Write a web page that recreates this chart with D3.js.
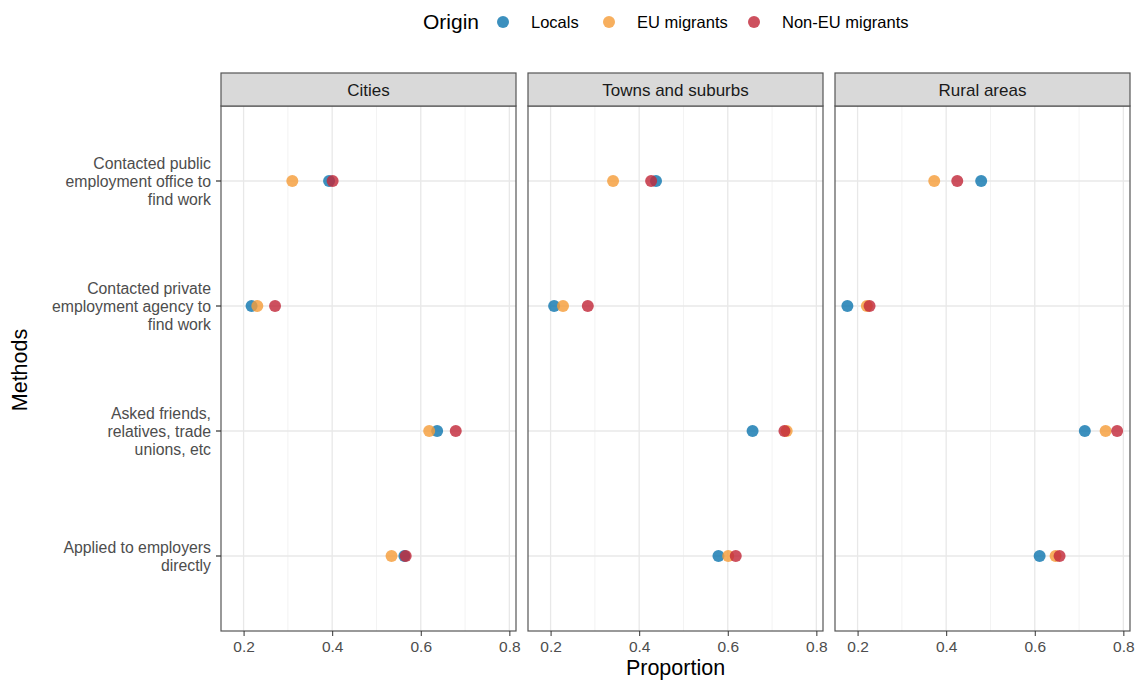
<!DOCTYPE html>
<html>
<head>
<meta charset="utf-8">
<script src="https://cdn.jsdelivr.net/npm/d3@7"></script>
<style>
  body { margin: 0; background: #fff; }
  svg { font-family: "Liberation Sans", Arial, sans-serif; }
</style>
</head>
<body>
<div id="chart"></div>
<script>
// data
const areas = ['Cities', 'Towns and suburbs', 'Rural areas'];
const methods = ['public', 'private', 'friends', 'employers'];
const methodLabels = [
  ['Contacted public', 'employment office to', 'find work'],
  ['Contacted private', 'employment agency to', 'find work'],
  ['Asked friends,', 'relatives, trade', 'unions, etc'],
  ['Applied to employers', 'directly']
];
const origins = ['Locals', 'EU migrants', 'Non-EU migrants'];
const originColors = ['#1177b0', '#f59e3a', '#c22a3a'];

// values per area, rows = methods (same order as methods)
const locals = {
  'Cities': [0.393, 0.218, 0.637, 0.563],
  'Towns and suburbs': [0.438, 0.208, 0.656, 0.579],
  'Rural areas': [0.479, 0.177, 0.713, 0.611]
};
const euMigrants = {
  'Cities': [0.310, 0.231, 0.619, 0.534],
  'Towns and suburbs': [0.341, 0.228, 0.733, 0.601],
  'Rural areas': [0.373, 0.221, 0.760, 0.647]
};
const nonEuMigrants = {
  'Cities': [0.401, 0.271, 0.679, 0.566],
  'Towns and suburbs': [0.427, 0.284, 0.728, 0.618],
  'Rural areas': [0.425, 0.227, 0.786, 0.656]
};
const seriesValues = [locals, euMigrants, nonEuMigrants];

const xTicks = [0.2, 0.4, 0.6, 0.8];
const xMinor = [0.3, 0.5, 0.7];

const width = 1135;
const height = 681;
const panelLeft = 221;
const panelW = 295;
const panelGap = 12;
const stripTop = 73;
const stripH = 33;
const panelTop = stripTop + stripH;
const panelH = 525;

const svg = d3.select('#chart').append('svg')
  .attr('width', width)
  .attr('height', height);

const x = d3.scaleLinear().domain([0.149, 0.815]).range([0, panelW]);
const y = d3.scalePoint().domain(methods).range([0, panelH]).padding(0.6);
const color = d3.scaleOrdinal().domain(origins).range(originColors);

areas.forEach((area, ai) => {
  const px = panelLeft + ai * (panelW + panelGap);
  const g = svg.append('g').attr('transform', `translate(${px},${panelTop})`);

  // minor grid
  g.selectAll('.minor').data(xMinor).enter().append('line')
    .attr('x1', d => x(d)).attr('x2', d => x(d))
    .attr('y1', 0).attr('y2', panelH)
    .attr('stroke', '#eeeeee').attr('stroke-width', 0.7);

  // major grid
  g.selectAll('.vmajor').data(xTicks).enter().append('line')
    .attr('x1', d => x(d)).attr('x2', d => x(d))
    .attr('y1', 0).attr('y2', panelH)
    .attr('stroke', '#e8e8e8').attr('stroke-width', 1.3);

  g.selectAll('.hmajor').data(methods).enter().append('line')
    .attr('x1', 0).attr('x2', panelW)
    .attr('y1', d => y(d)).attr('y2', d => y(d))
    .attr('stroke', '#e8e8e8').attr('stroke-width', 1.3);

  // points
  origins.forEach((o, oi) => {
    g.selectAll('.pt' + oi).data(seriesValues[oi][area]).enter().append('circle')
      .attr('cx', d => x(d))
      .attr('cy', (d, i) => y(methods[i]))
      .attr('r', 6)
      .attr('fill', color(o))
      .attr('fill-opacity', 0.82);
  });

  // panel border
  g.append('rect')
    .attr('width', panelW).attr('height', panelH)
    .attr('fill', 'none').attr('stroke', '#555').attr('stroke-width', 1.2);

  // strip
  svg.append('rect')
    .attr('x', px).attr('y', stripTop)
    .attr('width', panelW).attr('height', stripH)
    .attr('fill', '#d9d9d9').attr('stroke', '#555').attr('stroke-width', 1.2);
  svg.append('text')
    .attr('x', px + panelW / 2).attr('y', stripTop + stripH / 2 + 6)
    .attr('text-anchor', 'middle')
    .attr('font-size', 17).attr('fill', '#1a1a1a')
    .text(area);

  // x axis
  const xAxis = d3.axisBottom(x).tickValues(xTicks).tickSize(5).tickPadding(5).tickFormat(d3.format('.1f'));
  const ax = svg.append('g')
    .attr('transform', `translate(${px},${panelTop + panelH})`)
    .call(xAxis);
  ax.select('.domain').remove();
  ax.selectAll('line').attr('stroke', '#333');
  ax.selectAll('text').attr('font-size', 15.5).attr('fill', '#4d4d4d')
    .attr('font-family', '"Liberation Sans", Arial, sans-serif');
});

// y axis labels on first panel
const ya = svg.append('g').attr('transform', `translate(${panelLeft},${panelTop})`);
methods.forEach((m, i) => {
  const yy = y(m);
  ya.append('line').attr('x1', -5).attr('x2', 0).attr('y1', yy).attr('y2', yy)
    .attr('stroke', '#333').attr('stroke-width', 1.2);
  const lines = methodLabels[i];
  const lh = 18;
  const t = ya.append('text')
    .attr('text-anchor', 'end')
    .attr('font-size', 15.8).attr('fill', '#4d4d4d');
  lines.forEach((ln, li) => {
    t.append('tspan')
      .attr('x', -10)
      .attr('y', yy + (li - (lines.length - 1) / 2) * lh + 5.5)
      .text(ln);
  });
});

// axis titles
svg.append('text')
  .attr('transform', `translate(27,370) rotate(-90)`)
  .attr('text-anchor', 'middle')
  .attr('font-size', 21.5).attr('fill', '#000')
  .text('Methods');

svg.append('text')
  .attr('x', panelLeft + (3 * panelW + 2 * panelGap) / 2)
  .attr('y', 675)
  .attr('text-anchor', 'middle')
  .attr('font-size', 21.5).attr('fill', '#000')
  .text('Proportion');

// legend
const legend = svg.append('g');
legend.append('text').attr('x', 423).attr('y', 29)
  .attr('font-size', 21).attr('fill', '#000').text('Origin');
const legendX = [503, 609, 754];
origins.forEach((o, i) => {
  legend.append('circle').attr('cx', legendX[i]).attr('cy', 22).attr('r', 6)
    .attr('fill', color(o)).attr('fill-opacity', 0.82);
  legend.append('text').attr('x', legendX[i] + 28).attr('y', 28)
    .attr('font-size', 16.5).attr('fill', '#000').text(o);
});
</script>
</body>
</html>
